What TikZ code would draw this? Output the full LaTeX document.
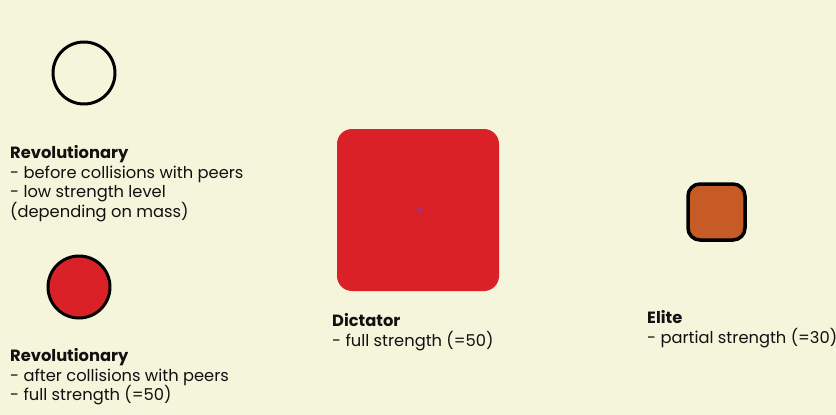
\documentclass[tikz,border=0pt]{standalone}
\usepackage{fontspec}
\setmainfont{Poppins}
\definecolor{paper}{HTML}{F5F5DC}
\definecolor{revred}{HTML}{DB2128}
\definecolor{elitebrown}{HTML}{C75B26}
\definecolor{ink}{HTML}{111111}
\tikzset{
  agent/.style={draw=black, line width=3pt},
  caption/.style={anchor=north west, align=left, inner sep=0pt, text=ink,
    font=\fontsize{16.3}{19.8}\selectfont},
}

\begin{document}
\begin{tikzpicture}[x=1pt, y=-1pt, line cap=round, line join=round]
  % canvas
  \fill[paper] (0,0) rectangle (836,415);
  \useasboundingbox (0,0) rectangle (836,415);
  % revolutionaries (empty and full)
  \draw[agent] (84,73) circle (31);
  \draw[agent, fill=revred] (79,287) circle (31);
  % dictator
  \fill[revred, rounded corners=15pt] (337,129) rectangle (499,291);
  \draw[blue!70, line width=0.6pt] (417,207) -- (421,211) (417,211) -- (421,207);
  % elite
  \draw[agent, line width=3.5pt, fill=elitebrown, rounded corners=12pt] (688,184) rectangle (745,240);
  % captions
  \node[caption] (revA) at (10,145) {\textbf{Revolutionary}\\- before collisions with peers\\- low strength level\\(depending on mass)};
  \node[caption] (revB) at (10,348) {\textbf{Revolutionary}\\- after collisions with peers\\- full strength (=50)};
  \node[caption] (dict) at (332,313) {\textbf{Dictator}\\- full strength (=50)};
  \node[caption] (elite) at (647,310) {\textbf{Elite}\\- partial strength (=30)};
\end{tikzpicture}
\end{document}
